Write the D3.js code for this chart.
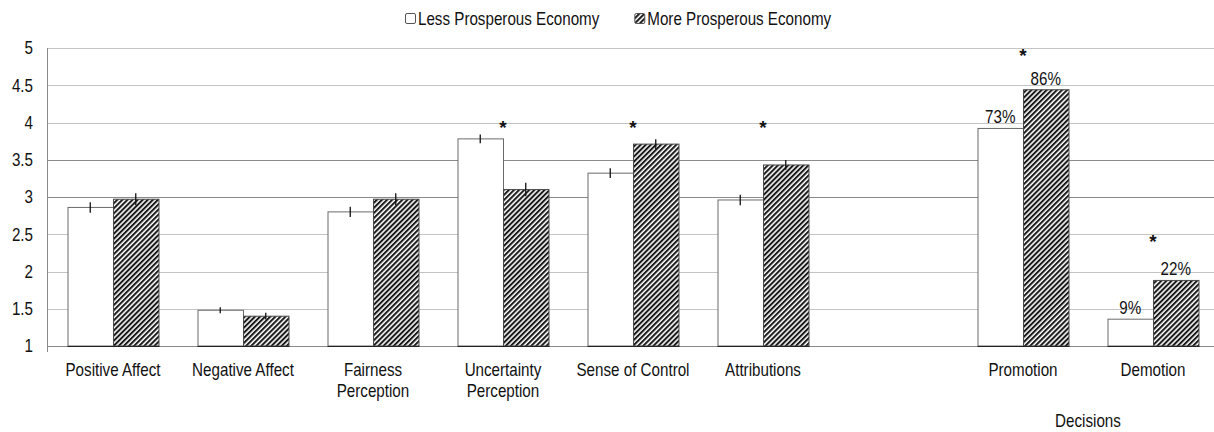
<!DOCTYPE html>
<html>
<head>
<meta charset="utf-8">
<script src="https://cdn.jsdelivr.net/npm/d3@7"></script>
<style>
  html, body { margin: 0; padding: 0; background: #fff; }
  svg { display: block; }
  text { font-family: "Liberation Sans Narrow", "Arial Narrow", sans-serif; font-size: 18.5px; fill: #111; }
</style>
</head>
<body>
<svg id="chart" width="1214" height="432"></svg>
<script>
// ---- data ----
const categories = ["Positive Affect", "Negative Affect", "Fairness Perception", "Uncertainty Perception",
                    "Sense of Control", "Attributions", "", "Promotion", "Demotion"];
const ratingCategories = ["Positive Affect", "Negative Affect", "Fairness Perception",
                          "Uncertainty Perception", "Sense of Control", "Attributions"];
const lessMeans = [2.86, 1.48, 2.80, 3.78, 3.32, 2.96];
const moreMeans = [2.97, 1.40, 2.97, 3.10, 3.71, 3.43];
const lessSE    = [0.07, 0.04, 0.07, 0.06, 0.065, 0.07];
const moreSE    = [0.08, 0.045, 0.08, 0.09, 0.065, 0.065];
const decisionCategories = ["Promotion", "Demotion"];
const lessPct = [73, 9];
const morePct = [86, 22];
const significant = ["Uncertainty Perception", "Sense of Control", "Attributions", "Promotion", "Demotion"];
const yTicks = [1, 1.5, 2, 2.5, 3, 3.5, 4, 4.5, 5];
const seriesNames = ["Less Prosperous Economy", "More Prosperous Economy"];
const decisionsLabel = "Decisions";
const labelLines = { "Fairness Perception": ["Fairness", "Perception"],
                     "Uncertainty Perception": ["Uncertainty", "Perception"] };

// percentages are drawn on the same 1–5 axis (0% -> 1, 100% -> 5)
const pctToScale = p => 1 + 4 * p / 100;

// ---- font check: use a condensed face when present, otherwise squeeze the regular one ----
function hasFont(name) {
  const ctx = document.createElement("canvas").getContext("2d");
  const s = "Positive Affect mmmwwwiii 0123";
  ctx.font = "40px monospace"; const a = ctx.measureText(s).width;
  ctx.font = `40px "${name}", monospace`; const b = ctx.measureText(s).width;
  return Math.abs(a - b) > 0.5;
}
const narrowAvailable = hasFont("Liberation Sans Narrow");
if (!narrowAvailable) d3.select("style").text(d3.select("style").text().replace('"Liberation Sans Narrow", "Arial Narrow", sans-serif', '"Liberation Sans", Arial, sans-serif'));

// ---- layout ----
const W = 1214, H = 432;
const svg = d3.select("#chart");
const x = d3.scaleBand().domain(categories).range([48, 1218]).paddingInner(0.3).paddingOuter(0.15);
const xs = d3.scaleBand().domain(["less", "more"]).range([0, x.bandwidth()]);
const y = d3.scaleLinear().domain([1, 5]).range([346, 48]);

// hatch pattern for the second series
const defs = svg.append("defs");
defs.append("pattern")
  .attr("id", "hatch").attr("patternUnits", "userSpaceOnUse")
  .attr("width", 3.6).attr("height", 3.6).attr("patternTransform", "rotate(45)")
  .call(p => {
    p.append("rect").attr("width", 3.6).attr("height", 3.6).attr("fill", "#fff");
    p.append("line").attr("x1", 1).attr("y1", 0).attr("x2", 1).attr("y2", 3.6)
      .attr("stroke", "#1a1a1a").attr("stroke-width", 2.1);
  });

// gridlines
const gridColor = v => (v === 3 || v === 3.5) ? "#8a8a8a" : "#c4c4c4";
svg.append("g").selectAll("line").data(yTicks.filter(v => v > 1)).join("line")
  .attr("x1", 47).attr("x2", W)
  .attr("y1", d => Math.round(y(d)) + 0.5).attr("y2", d => Math.round(y(d)) + 0.5)
  .attr("stroke", gridColor).attr("stroke-width", 1);

// axes lines
svg.append("line").attr("x1", 47.5).attr("x2", 47.5).attr("y1", y(5)).attr("y2", y(1) + 6)
  .attr("stroke", "#8a8a8a");
svg.append("line").attr("x1", 47).attr("x2", W).attr("y1", Math.round(y(1)) + 0.5).attr("y2", Math.round(y(1)) + 0.5)
  .attr("stroke", "#8a8a8a");

// y tick labels
const yAxis = svg.append("g").attr("transform", "translate(47,0)")
  .call(d3.axisLeft(y).tickValues(yTicks).tickSize(0).tickPadding(14).tickFormat(d3.format("")));
yAxis.select(".domain").remove();
yAxis.selectAll("text").attr("fill", "#111").style("font-size", "18.5px");
yAxis.attr("font-family", null).attr("font-size", null);

// bar records: ratings with standard errors, decisions as percentages
const ratingRows = ratingCategories.map((c, i) => ({ cat: c, less: lessMeans[i], more: moreMeans[i], lessSE: lessSE[i], moreSE: moreSE[i] }));
const barData = [];
ratingRows.forEach(r => {
  barData.push({ cat: r.cat, key: "less", v: r.less, se: r.lessSE });
  barData.push({ cat: r.cat, key: "more", v: r.more, se: r.moreSE });
});
decisionCategories.forEach((c, i) => {
  barData.push({ cat: c, key: "less", v: pctToScale(lessPct[i]), pct: lessPct[i] });
  barData.push({ cat: c, key: "more", v: pctToScale(morePct[i]), pct: morePct[i] });
});

const bars = svg.append("g");
bars.selectAll("rect").data(barData).join("rect")
  .attr("x", d => x(d.cat) + xs(d.key) + 0.5)
  .attr("width", xs.bandwidth())
  .attr("y", d => y(d.v))
  .attr("height", d => y(1) - y(d.v))
  .attr("fill", d => d.key === "less" ? "#fff" : "url(#hatch)")
  .attr("stroke", d => d.key === "less" ? "#6a6a6a" : "#4a4a4a")
  .attr("stroke-width", 1);

// bottom edge of bars
bars.selectAll("line.base").data(barData).join("line").attr("class", "base")
  .attr("x1", d => x(d.cat) + xs(d.key)).attr("x2", d => x(d.cat) + xs(d.key) + xs.bandwidth() + 1)
  .attr("y1", Math.round(y(1)) + 0.5).attr("y2", Math.round(y(1)) + 0.5)
  .attr("stroke", "#222");

// error bars
svg.append("g").selectAll("line").data(barData.filter(d => d.se != null)).join("line")
  .attr("x1", d => x(d.cat) + xs(d.key) + xs.bandwidth() / 2)
  .attr("x2", d => x(d.cat) + xs(d.key) + xs.bandwidth() / 2)
  .attr("y1", d => y(d.v + d.se)).attr("y2", d => y(d.v - d.se))
  .attr("stroke", "#111").attr("stroke-width", 1.3);

// percentage labels on decision bars
svg.append("g").selectAll("text").data(barData.filter(d => d.pct != null)).join("text")
  .attr("class", "squeeze")
  .attr("x", d => x(d.cat) + xs(d.key) + xs.bandwidth() / 2)
  .attr("y", d => y(d.v) - 5)
  .attr("text-anchor", "middle")
  .text(d => d.pct + "%");

// significance stars: ratings share one level above their tallest error bar,
// decisions sit on the first half-step above their percentage label
const ceilHalf = v => Math.ceil(v * 2 - 1e-9) / 2;
const ratingLevel = ceilHalf(d3.max(ratingRows, r => Math.max(r.less + r.lessSE, r.more + r.moreSE)));
const starLevel = c => {
  if (ratingCategories.includes(c)) return ratingLevel;
  const top = d3.max(barData.filter(d => d.cat === c), d => d.v);
  return ceilHalf(y.invert(y(top) - 19));
};
svg.append("g").selectAll("text").data(significant).join("text")
  .attr("x", c => x(c) + x.bandwidth() / 2)
  .attr("y", c => y(starLevel(c)) + (ratingCategories.includes(c) ? 11 : 14))
  .attr("text-anchor", "middle")
  .style("font-family", "'Liberation Sans', Arial, sans-serif")
  .style("font-size", "19px")
  .style("font-weight", "bold")
  .text("*");

// category labels
const catLabels = svg.append("g").selectAll("text").data(categories.filter(c => c !== "")).join("text")
  .attr("class", "squeeze")
  .attr("text-anchor", "middle")
  .attr("y", 376);
catLabels.each(function (c) {
  const t = d3.select(this);
  (labelLines[c] || [c]).forEach((line, i) => {
    t.append("tspan").attr("class", "squeeze").attr("x", x(c) + x.bandwidth() / 2)
      .attr("dy", i === 0 ? 0 : 21).text(line);
  });
});

// group label under the decision categories
svg.append("text").attr("class", "squeeze")
  .attr("x", (x("Promotion") + x("Demotion") + x.bandwidth()) / 2)
  .attr("y", 427).attr("text-anchor", "middle")
  .text(decisionsLabel);

// legend
const legend = svg.append("g");
let lx = 405;
seriesNames.forEach((name, i) => {
  legend.append("rect").attr("x", lx + 0.5).attr("y", 13.5).attr("width", 10).attr("height", 10)
    .attr("rx", 1.5)
    .attr("fill", i === 0 ? "#fff" : "url(#hatch)").attr("stroke", "#555");
  const t = legend.append("text").attr("class", "squeeze").attr("x", lx + 13).attr("y", 24.5).text(name);
  lx += 13 + t.node().getComputedTextLength() * (narrowAvailable ? 1 : 0.82) + 35;
});

// condense the regular face when no narrow face is installed
if (!narrowAvailable) {
  svg.selectAll("text.squeeze").each(function () {
    const el = d3.select(this);
    if (!el.select("tspan").empty()) return;
    el.attr("textLength", this.getComputedTextLength() * 0.82).attr("lengthAdjust", "spacingAndGlyphs");
  });
  svg.selectAll("tspan.squeeze").each(function () {
    d3.select(this).attr("textLength", this.getComputedTextLength() * 0.82).attr("lengthAdjust", "spacingAndGlyphs");
  });
  yAxis.selectAll("text").each(function () {
    d3.select(this).attr("textLength", this.getComputedTextLength() * 0.82).attr("lengthAdjust", "spacingAndGlyphs");
  });
}
</script>
</body>
</html>
